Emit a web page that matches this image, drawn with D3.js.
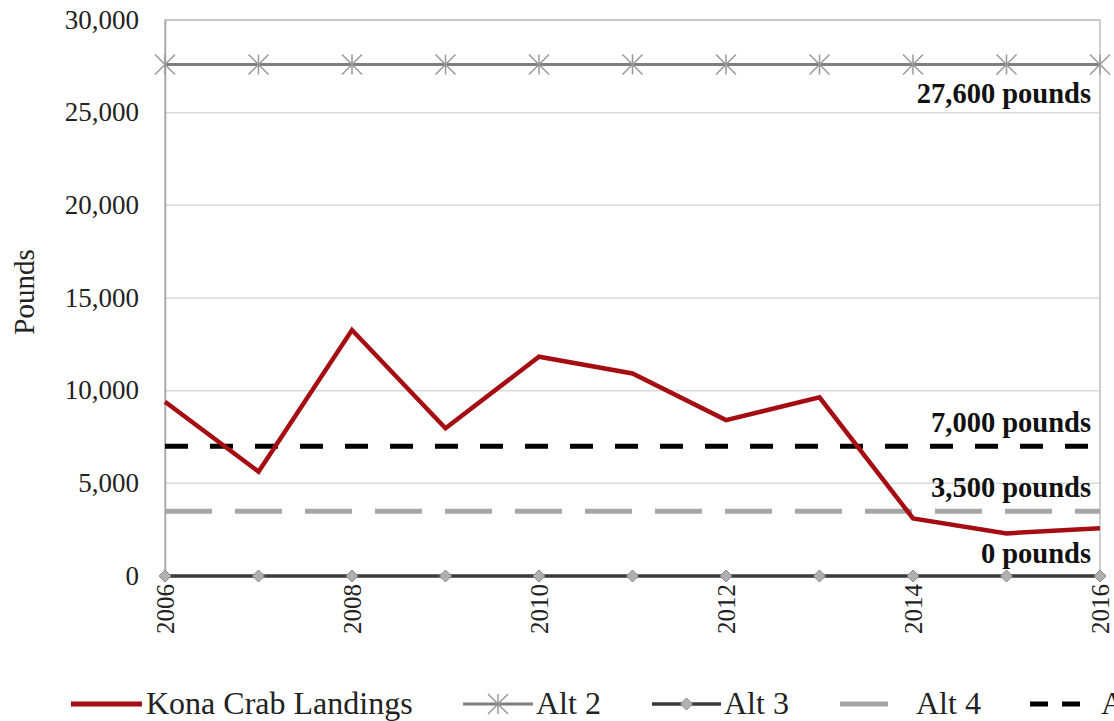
<!DOCTYPE html>
<html><head><meta charset="utf-8">
<script src="https://cdn.jsdelivr.net/npm/d3@7"></script>
<style>body{margin:0;background:#fff;overflow:hidden}svg{display:block}</style>
</head><body>
<script>
const years = [2006,2007,2008,2009,2010,2011,2012,2013,2014,2015,2016];
const landings = [9400,5630,13270,7970,11830,10930,8410,9640,3110,2300,2570];
const alt2 = 27600, alt3 = 0, alt4 = 3500, alt5 = 7000;
const yTicks = [0,5000,10000,15000,20000,25000,30000];
const xTicks = [2006,2008,2010,2012,2014,2016];
const legendNames = ["Kona Crab Landings","Alt 2","Alt 3","Alt 4","Alt 5"];
const annotations = [{v:27600,t:"27,600 pounds"},{v:7000,t:"7,000 pounds"},{v:3500,t:"3,500 pounds"},{v:0,t:"0 pounds"}];

const W=1114,H=721;
const m={l:165,r:1100,t:20,b:576};
const svg=d3.select("body").append("svg").attr("width",W).attr("height",H);
const x=d3.scaleLinear().domain([2006,2016]).range([m.l,m.r]);
const y=d3.scaleLinear().domain([0,30000]).range([m.b,m.t]);
const font="'Liberation Serif','Times New Roman',serif";

// gridlines
svg.append("g").selectAll("line").data(yTicks.slice(1)).join("line")
 .attr("x1",m.l).attr("x2",m.r).attr("y1",d=>y(d)).attr("y2",d=>y(d))
 .attr("stroke","#d9d9d9").attr("stroke-width",1.5);
// frame
svg.append("rect").attr("x",m.l).attr("y",m.t).attr("width",m.r-m.l).attr("height",m.b-m.t)
 .attr("fill","none").attr("stroke","#bfbfbf").attr("stroke-width",1.5);

// y axis
const ya=svg.append("g").attr("transform",`translate(${m.l},0)`)
 .call(d3.axisLeft(y).tickValues(yTicks).tickFormat(d3.format(",")).tickSize(0).tickPadding(26));
ya.select(".domain").attr("stroke","#a6a6a6").attr("stroke-width",1.5);
ya.selectAll("text").attr("font-family",font).attr("font-size",27).attr("fill","#222").attr("dy","0.3em");

// x axis
const xa=svg.append("g").attr("transform",`translate(0,${m.b})`)
 .call(d3.axisBottom(x).tickValues(xTicks).tickFormat(d3.format("d")).tickSize(0));
xa.select(".domain").remove();
xa.selectAll("text").attr("font-family",font).attr("font-size",25).attr("fill","#222")
 .attr("transform","rotate(-90)").attr("text-anchor","end").attr("dy","0.33em").attr("x",-8).attr("y",0);

svg.append("text").attr("transform","translate(34,292) rotate(-90)").attr("text-anchor","middle")
 .attr("font-family",font).attr("font-size",29).attr("fill","#222").text("Pounds");

// Alt 4
svg.append("line").attr("x1",m.l).attr("x2",m.r).attr("y1",y(alt4)).attr("y2",y(alt4))
 .attr("stroke","#a6a6a6").attr("stroke-width",5).attr("stroke-dasharray","47,23");
// Alt 5
svg.append("line").attr("x1",m.l).attr("x2",m.r).attr("y1",y(alt5)).attr("y2",y(alt5))
 .attr("stroke","#000").attr("stroke-width",5).attr("stroke-dasharray","23,22");
// Alt 2
svg.append("line").attr("x1",m.l).attr("x2",m.r).attr("y1",y(alt2)).attr("y2",y(alt2))
 .attr("stroke","#7f7f7f").attr("stroke-width",3);
function star(g,cx,cy,s,col){
  const a=s/2;
  g.append("path").attr("d",`M${cx-a},${cy-a}L${cx+a},${cy+a}M${cx-a},${cy+a}L${cx+a},${cy-a}M${cx},${cy-a}L${cx},${cy+a}`)
   .attr("stroke",col).attr("stroke-width",1.5).attr("fill","none");
}
const starG=svg.append("g");
years.forEach(yr=>star(starG,x(yr),y(alt2),20,"#999"));

// Alt 3
svg.append("line").attr("x1",m.l).attr("x2",m.r).attr("y1",y(alt3)).attr("y2",y(alt3))
 .attr("stroke","#3a3a3a").attr("stroke-width",3.5);
svg.append("g").selectAll("path").data(years).join("path")
 .attr("d",d=>`M${x(d)},${y(alt3)-6}l6,6l-6,6l-6,-6z`)
 .attr("fill","#b0b0b0").attr("stroke","#888").attr("stroke-width",1);

// landings
svg.append("path").datum(years.map((yr,i)=>[yr,landings[i]]))
 .attr("d",d3.line().x(d=>x(d[0])).y(d=>y(d[1])))
 .attr("fill","none").attr("stroke","#a50d12").attr("stroke-width",4.5).attr("stroke-linejoin","miter");

// annotations
const annY={27600:103,7000:432,3500:497,0:563};
svg.append("g").selectAll("text").data(annotations).join("text")
 .attr("x",1091).attr("y",d=>annY[d.v]).attr("text-anchor","end")
 .attr("font-family",font).attr("font-size",28.5).attr("font-weight","bold").attr("fill","#111").text(d=>d.t);

// legend
const ly=704;
const lg=svg.append("g");
const leg=[{x1:71,x2:142,tx:146},{x1:463,x2:533,tx:536},{x1:652,x2:721,tx:724},{x1:840,x2:888,tx:916},{x1:1030,x2:1086,tx:1101}];
function legText(i){lg.append("text").attr("x",leg[i].tx).attr("y",ly+10).attr("font-family",font).attr("font-size",32).attr("fill","#222").text(legendNames[i]);}
lg.append("line").attr("x1",leg[0].x1).attr("x2",leg[0].x2).attr("y1",ly).attr("y2",ly).attr("stroke","#a50d12").attr("stroke-width",5);
legText(0);
lg.append("line").attr("x1",leg[1].x1).attr("x2",leg[1].x2).attr("y1",ly).attr("y2",ly).attr("stroke","#7f7f7f").attr("stroke-width",3);
star(lg,(leg[1].x1+leg[1].x2)/2,ly,20,"#999");
legText(1);
lg.append("line").attr("x1",leg[2].x1).attr("x2",leg[2].x2).attr("y1",ly).attr("y2",ly).attr("stroke","#3a3a3a").attr("stroke-width",3.5);
lg.append("path").attr("d",`M${(leg[2].x1+leg[2].x2)/2},${ly-6}l6,6l-6,6l-6,-6z`).attr("fill","#b0b0b0").attr("stroke","#888");
legText(2);
lg.append("line").attr("x1",leg[3].x1).attr("x2",leg[3].x2).attr("y1",ly).attr("y2",ly).attr("stroke","#a6a6a6").attr("stroke-width",5);
legText(3);
lg.append("line").attr("x1",leg[4].x1).attr("x2",leg[4].x2).attr("y1",ly).attr("y2",ly).attr("stroke","#000").attr("stroke-width",5).attr("stroke-dasharray","18,14");
legText(4);
</script>
</body></html>
